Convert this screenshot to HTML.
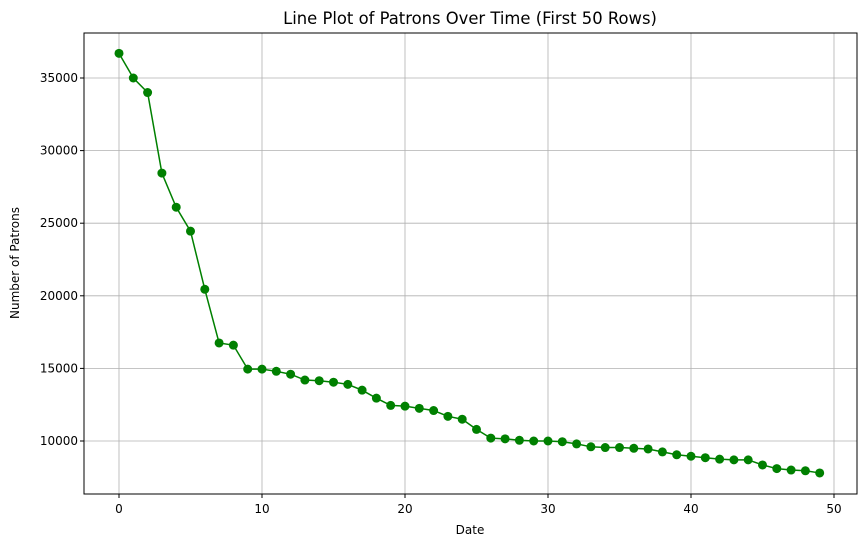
<!DOCTYPE html>
<html><head><meta charset="utf-8"><style>
html,body{margin:0;padding:0;background:#fff;}
svg{display:block;font-family:"DejaVu Sans","Liberation Sans",sans-serif;}
</style></head><body>
<svg id="chart" width="868" height="547" viewBox="0 0 868 547">
<rect x="0" y="0" width="868" height="547" fill="#fff"/>
<text x="470" y="24" font-size="16.4" text-anchor="middle" fill="#000">Line Plot of Patrons Over Time (First 50 Rows)</text>
<g id="grid"></g>
<g id="marks"></g>
<rect x="84" y="33" width="773" height="461" fill="none" stroke="#000" stroke-width="1"/>
<g id="axes"></g>
<text x="470" y="534" font-size="12" text-anchor="middle">Date</text>
<text x="0" y="0" font-size="12" text-anchor="middle" transform="translate(19,263) rotate(-90)">Number of Patrons</text>
</svg>
<script>
const patrons = [36700,35000,34000,28450,26100,24450,20450,16750,16600,14950,14950,14800,14600,14200,14150,14050,13900,13500,12950,12450,12400,12250,12100,11700,11500,10800,10200,10150,10050,10000,10000,9950,9800,9600,9550,9550,9500,9450,9250,9050,8950,8850,8750,8700,8700,8350,8100,8000,7950,7800];
const xTicks = [0,10,20,30,40,50];
const yTicks = [10000,15000,20000,25000,30000,35000];

const NS = "http://www.w3.org/2000/svg";
function xS(v){ return 119 + v * 14.3; }
function yS(v){ return 441 - (v - 10000) * (72.6/5000); }
function mk(tag, attrs, parent){ const e=document.createElementNS(NS,tag); for(const k in attrs) e.setAttribute(k,attrs[k]); parent.appendChild(e); return e; }
const grid=document.getElementById('grid'), axes=document.getElementById('axes'), marks=document.getElementById('marks');
xTicks.forEach(t=>{
  const x=xS(t);
  const g=mk('line',{x1:x,x2:x,y1:33,y2:494,stroke:'#b0b0b0','stroke-width':0.8},grid);
  
  
  const tk=mk('line',{x1:x,x2:x,y1:494,y2:498,stroke:'#000'},axes);
  
  
  const tx=mk('text',{x:x,y:513,'font-size':12,'text-anchor':'middle'},axes);
  tx.textContent=t;
  
  
});
yTicks.forEach(t=>{
  const y=yS(t);
  const g=mk('line',{x1:84,x2:857,y1:y,y2:y,stroke:'#b0b0b0','stroke-width':0.8},grid);
  
  
  const tk=mk('line',{x1:80,x2:84,y1:y,y2:y,stroke:'#000'},axes);
  
  
  const tx=mk('text',{x:78,y:y+4,'font-size':12,'text-anchor':'end'},axes);
  tx.textContent=t;
  
  
});
const pts=patrons.map((v,i)=>xS(i)+','+yS(v)).join(' ');
const line=mk('polyline',{points:pts,fill:'none',stroke:'#008000','stroke-width':1.5},marks);


patrons.forEach((v,i)=>{
  const c=mk('circle',{cx:xS(i),cy:yS(v),r:4.5,fill:'#008000'},marks);
  
  
});
</script>
</body></html>
